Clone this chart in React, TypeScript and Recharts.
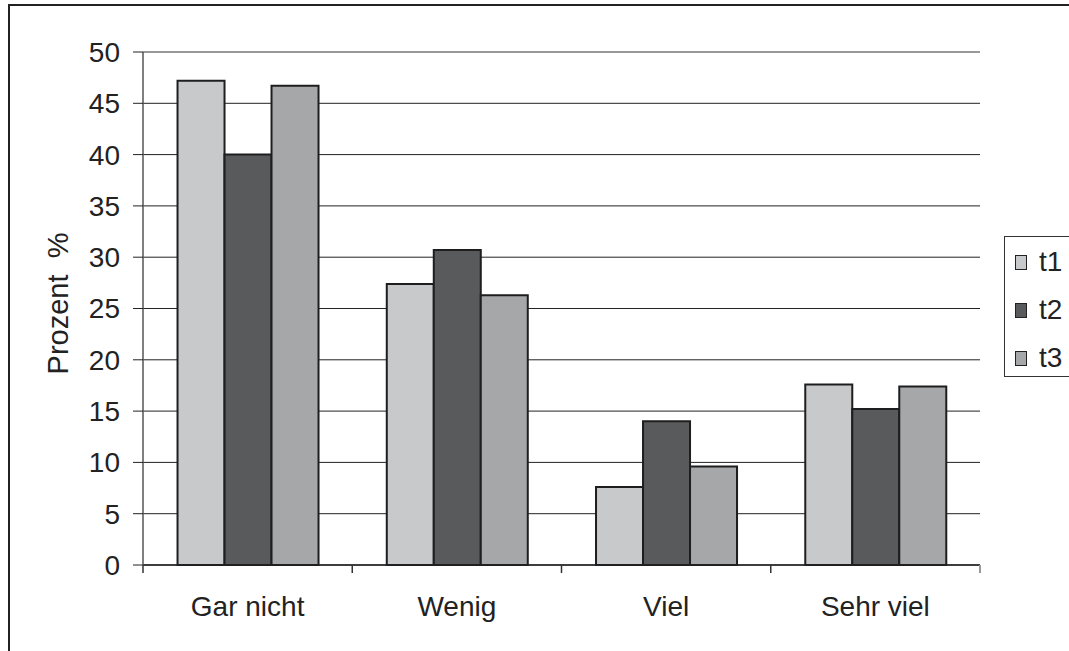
import React from 'react';
import {
  BarChart,
  Bar,
  XAxis,
  YAxis,
  CartesianGrid,
  Legend,
  ReferenceLine,
} from 'recharts';

// Antwortkategorien und Anteile (in %) zu drei Messzeitpunkten
const categories = ['Gar nicht', 'Wenig', 'Viel', 'Sehr viel'];
const t1Values = [47.2, 27.4, 7.6, 17.6];
const t2Values = [40.0, 30.7, 14.0, 15.2];
const t3Values = [46.7, 26.3, 9.6, 17.4];
const yTicks = [0, 5, 10, 15, 20, 25, 30, 35, 40, 45, 50];

const seriesColors = { t1: '#c8c9cb', t2: '#595a5c', t3: '#a6a7a9' };

const data = categories.map((name, i) => ({
  name,
  t1: t1Values[i],
  t2: t2Values[i],
  t3: t3Values[i],
}));

const FONT = '"Liberation Sans", Arial, sans-serif';
const TEXT = '#222';
const FS = 28;
const LABEL_GAP = 31;
const TICK_LEN = 8;

const LegendBox = (props: any) => {
  const { payload = [] } = props;
  return (
    <div
      style={{
        border: '1px solid #333',
        width: 120,
        height: 141,
        boxSizing: 'border-box',
        paddingTop: 1,
        paddingLeft: 10,
        background: '#fff',
        fontFamily: FONT,
        fontSize: FS,
        color: TEXT,
      }}
    >
      {payload.map((entry: any) => (
        <div
          key={entry.value}
          style={{ height: 48, display: 'flex', alignItems: 'center' }}
        >
          <span
            style={{
              display: 'inline-block',
              width: 10,
              height: 13,
              background: entry.color,
              border: '1.5px solid #222',
              marginRight: 12,
            }}
          />
          <span>{entry.value}</span>
        </div>
      ))}
    </div>
  );
};

const YLabel = (props: any) => {
  const vb = props.viewBox || { y: 0, height: 0 };
  const cy = vb.y + vb.height / 2 - 5;
  const x = 68;
  return (
    <text
      x={x}
      y={cy}
      transform={`rotate(-90, ${x}, ${cy})`}
      textAnchor="middle"
      fill={TEXT}
      fontSize={29}
      fontFamily={FONT}
      style={{ whiteSpace: 'pre' }}
    >
      {'Prozent  %'}
    </text>
  );
};

// Category label centred under each group, with tick marks on the group boundaries
const CategoryTick = (props: any) => {
  const { x, y, payload, index, visibleTicksCount, width } = props;
  const half =
    payload && typeof payload.offset === 'number' && payload.offset > 0
      ? payload.offset
      : width / visibleTicksCount / 2;
  const axisY = y - LABEL_GAP;
  const isLast = index === visibleTicksCount - 1;
  return (
    <g>
      <line
        x1={x - half}
        x2={x - half}
        y1={axisY}
        y2={axisY + TICK_LEN}
        stroke="#333"
        strokeWidth={1.5}
      />
      {isLast && (
        <line
          x1={x + half}
          x2={x + half}
          y1={axisY}
          y2={axisY + TICK_LEN}
          stroke="#999"
          strokeWidth={2}
        />
      )}
      <text
        x={x}
        y={y}
        dy="0.71em"
        textAnchor="middle"
        fill={TEXT}
        fontSize={FS}
        fontFamily={FONT}
      >
        {payload.value}
      </text>
    </g>
  );
};

export default function App() {
  return (
    <div
      style={{
        position: 'absolute',
        left: 0,
        top: 0,
        width: 1069,
        height: 651,
        overflow: 'hidden',
        background: '#fff',
      }}
    >
      <div
        style={{
          position: 'absolute',
          left: 8,
          top: 4,
          width: 1200,
          height: 800,
          borderLeft: '2px solid #222',
          borderTop: '2px solid #222',
        }}
      />
      <div style={{ position: 'absolute', left: 0, top: 0 }}>
        <BarChart
          width={1069}
          height={651}
          data={data}
          margin={{ top: 52, right: 89, bottom: 0, left: 0 }}
          barCategoryGap="16.5%"
          barGap={0}
        >
          <CartesianGrid vertical={false} stroke="#222" strokeWidth={1} />
          <XAxis
            dataKey="name"
            height={86}
            interval={0}
            axisLine={{ stroke: '#222', strokeWidth: 1.5 }}
            tickLine={false}
            tickSize={0}
            tickMargin={LABEL_GAP}
            tick={<CategoryTick />}
          />
          <YAxis
            width={143}
            domain={[0, 50]}
            ticks={yTicks}
            interval={0}
            axisLine={{ stroke: '#555', strokeWidth: 1.5 }}
            tickLine={{ stroke: '#222' }}
            tickSize={10}
            tickMargin={13}
            tick={{ fill: TEXT, fontSize: FS, fontFamily: FONT }}
            label={<YLabel />}
          />
          <YAxis
            yAxisId="frame"
            orientation="right"
            width={0}
            domain={[0, 50]}
            axisLine={{ stroke: '#999', strokeWidth: 2 }}
            tick={false}
            tickLine={false}
          />
          <ReferenceLine y={50} stroke="#999" strokeWidth={2} />
          <Legend
            layout="vertical"
            align="center"
            verticalAlign="middle"
            content={<LegendBox />}
            wrapperStyle={{ left: 1004, top: 236, width: 120, height: 141 }}
          />
          <Bar
            dataKey="t1"
            name="t1"
            fill={seriesColors.t1}
            stroke="#1e1e1e"
            strokeWidth={2}
            isAnimationActive={false}
          />
          <Bar
            dataKey="t2"
            name="t2"
            fill={seriesColors.t2}
            stroke="#1e1e1e"
            strokeWidth={2}
            isAnimationActive={false}
          />
          <Bar
            dataKey="t3"
            name="t3"
            fill={seriesColors.t3}
            stroke="#1e1e1e"
            strokeWidth={2}
            isAnimationActive={false}
          />
        </BarChart>
      </div>
    </div>
  );
}
